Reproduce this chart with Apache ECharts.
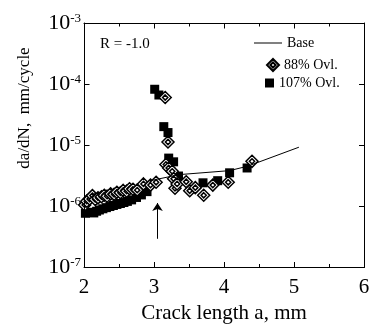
<!DOCTYPE html>
<html>
<head>
<meta charset="utf-8">
<script src="https://cdn.jsdelivr.net/npm/echarts@6/dist/echarts.min.js"></script>
<style>
  html, body { margin: 0; padding: 0; background: #fff; }
  #chart { width: 369px; height: 325px; }
</style>
</head>
<body>
<div id="chart"></div>
<script>
// crack length a (mm) vs da/dN (mm/cycle)
const baseLine = [[2.95, 2.6e-6], [3.05, 2.75e-6], [3.36, 3.27e-6], [4.08, 3.8e-6], [4.34, 4.5e-6], [5.07, 9.2e-6]];

const ovl107 = [
  [2.02, 7.6e-7], [2.06, 7.9e-7], [2.14, 7.7e-7], [2.18, 8.2e-7], [2.22, 8.6e-7], [2.27, 9.0e-7],
  [2.32, 9.4e-7], [2.37, 9.8e-7], [2.42, 1.02e-6], [2.47, 1.06e-6], [2.52, 1.1e-6], [2.57, 1.14e-6],
  [2.62, 1.19e-6], [2.68, 1.26e-6], [2.75, 1.38e-6], [2.82, 1.52e-6], [2.9, 1.72e-6],
  [3.01, 8.2e-5], [3.07, 6.6e-5], [3.14, 2.0e-5], [3.2, 1.6e-5], [3.21, 6.1e-6], [3.28, 5.3e-6],
  [3.35, 3.1e-6], [3.7, 2.4e-6], [3.91, 2.6e-6], [4.08, 3.5e-6], [4.33, 4.2e-6],
];

const ovl88 = [
  [2.01, 1.04e-6], [2.04, 1.2e-6], [2.08, 1.3e-6], [2.12, 1.48e-6], [2.16, 1.28e-6], [2.2, 1.36e-6],
  [2.25, 1.42e-6], [2.29, 1.5e-6], [2.33, 1.45e-6], [2.38, 1.58e-6], [2.43, 1.55e-6], [2.47, 1.68e-6],
  [2.52, 1.65e-6], [2.56, 1.8e-6], [2.61, 1.75e-6], [2.65, 1.92e-6], [2.7, 1.88e-6], [2.76, 1.82e-6],
  [2.85, 2.3e-6], [2.95, 2.2e-6], [3.03, 2.45e-6],
  [3.16, 6.0e-5], [3.2, 1.12e-5], [3.17, 4.8e-6], [3.21, 4.2e-6], [3.26, 3.7e-6], [3.28, 2.8e-6],
  [3.3, 1.95e-6], [3.33, 2.3e-6], [3.46, 2.5e-6], [3.51, 1.78e-6], [3.59, 2.0e-6], [3.71, 1.5e-6],
  [3.84, 2.2e-6], [4.06, 2.45e-6], [4.4, 5.4e-6],
];

// overload position arrow
const overloadArrow = [[3.05, 2.9e-7], [3.05, 1.12e-6]];

const xRange = [2, 6];
const yRange = [1e-7, 1e-3];
const xTicks = [2, 3, 4, 5, 6];
const xMinorTicks = [2.5, 3.5, 4.5, 5.5];
const yTicks = [1e-7, 1e-6, 1e-5, 1e-4, 1e-3];

const serif = 'Liberation Serif';
const diamondRing = 'path://M6,0L12,6L6,12L0,6Z M6,3.4L8.6,6L6,8.6L3.4,6Z';

const frame = () => ({
  axisLine: {show: true, onZero: false, lineStyle: {color: '#000', width: 1}},
  axisTick: {show: true, inside: true, length: 5, lineStyle: {color: '#000', width: 1}},
  splitLine: {show: false},
});

const chart = echarts.init(document.getElementById('chart'), null, {renderer: 'canvas'});

chart.setOption({
  animation: false,
  grid: {left: 84, right: 5, top: 23, bottom: 58, outerBoundsMode: 'none'},
  title: {
    text: 'R = -1.0', left: 100, top: 37, padding: 0,
    textStyle: {fontFamily: serif, fontSize: 15, fontWeight: 'normal', color: '#000'},
  },
  legend: [
    {data: [{name: 'Base', icon: 'rect'}], left: 249, top: 31, itemWidth: 28, itemHeight: 1, selectedMode: false,
      textStyle: {fontFamily: serif, fontSize: 14, color: '#000'}},
    {data: ['88% Ovl.'], left: 261, top: 53, itemWidth: 12, itemHeight: 12, selectedMode: false,
      textStyle: {fontFamily: serif, fontSize: 14, color: '#000'}},
    {data: ['107% Ovl.'], left: 260, top: 71, itemWidth: 9, itemHeight: 9, selectedMode: false,
      textStyle: {fontFamily: serif, fontSize: 14, color: '#000'}},
  ],
  xAxis: [{
    ...frame(),
    type: 'value', min: xRange[0], max: xRange[1], interval: 1,
    minorTick: {show: true, splitNumber: 2, length: 3, lineStyle: {color: '#000'}},
    axisLabel: {fontFamily: serif, fontSize: 21, color: '#000', margin: 10},
    name: 'Crack length a, mm', nameLocation: 'middle', nameGap: 30,
    nameTextStyle: {fontFamily: serif, fontSize: 21, color: '#000'},
  }, {
    ...frame(),
    type: 'value', position: 'top', min: xRange[0], max: xRange[1], interval: 1,
    minorTick: {show: true, splitNumber: 2, length: 3, lineStyle: {color: '#000'}},
    axisLabel: {show: false},
  }],
  yAxis: [{
    ...frame(),
    type: 'log', logBase: 10, min: yRange[0], max: yRange[1],
    axisLabel: {
      margin: 3,
      formatter: v => `{b|10}{s|${Math.round(Math.log10(v))}}`,
      rich: {
        b: {fontFamily: serif, fontSize: 22, lineHeight: 22, color: '#000'},
        s: {fontFamily: serif, fontSize: 13, color: '#000', verticalAlign: 'top'},
      },
    },
  }, {
    ...frame(),
    type: 'log', logBase: 10, position: 'right', min: yRange[0], max: yRange[1],
    axisLabel: {show: false},
  }],
  series: [
    {
      name: 'Base', type: 'line', data: baseLine, symbol: 'none',
      itemStyle: {color: '#000'},
      lineStyle: {color: '#000', width: 1},
      markLine: {
        silent: true, symbol: ['none', 'arrow'], symbolSize: 8,
        label: {show: false},
        itemStyle: {color: '#000'},
        lineStyle: {color: '#000', width: 1, type: 'solid'},
        data: [[{coord: overloadArrow[0]}, {coord: overloadArrow[1]}]],
      },
    },
    {
      name: '107% Ovl.', type: 'scatter', data: ovl107, symbol: 'rect', symbolSize: 9,
      itemStyle: {color: '#000', opacity: 1},
    },
    {
      name: '88% Ovl.', type: 'scatter', data: ovl88, symbol: diamondRing, symbolSize: 12,
      itemStyle: {color: '#fff', borderColor: '#000', borderWidth: 1.5, opacity: 1},
    },
  ],
});

// plot frame and inward ticks, placed through the chart's own scales
const toPx = p => chart.convertToPixel({xAxisIndex: 0, yAxisIndex: 0}, p);
const snap = v => Math.round(v) + 0.5;
const [frameLeft, frameBottom] = toPx([xRange[0], yRange[0]]).map(snap);
const [frameRight, frameTop] = toPx([xRange[1], yRange[1]]).map(snap);
const seg = (xa, ya, xb, yb) => ({
  type: 'line', silent: true, z: 10,
  shape: {x1: xa, y1: ya, x2: xb, y2: yb},
  style: {stroke: '#000', lineWidth: 1},
});
const frameMarks = [{
  type: 'rect', silent: true, z: 10,
  shape: {x: frameLeft, y: frameTop, width: frameRight - frameLeft, height: frameBottom - frameTop},
  style: {fill: 'none', stroke: '#000', lineWidth: 1},
}];
xTicks.forEach(v => {
  const x = snap(toPx([v, yRange[0]])[0]);
  frameMarks.push(seg(x, frameBottom, x, frameBottom - 5), seg(x, frameTop, x, frameTop + 5));
});
xMinorTicks.forEach(v => {
  const x = snap(toPx([v, yRange[0]])[0]);
  frameMarks.push(seg(x, frameBottom, x, frameBottom - 3), seg(x, frameTop, x, frameTop + 3));
});
yTicks.forEach(v => {
  const y = snap(toPx([xRange[0], v])[1]);
  frameMarks.push(seg(frameLeft, y, frameLeft + 5, y), seg(frameRight, y, frameRight - 5, y));
});

chart.setOption({
  graphic: [{
    type: 'text', x: 25, y: 108, rotation: Math.PI / 2,
    style: {text: 'da/dN,  mm/cycle', fontFamily: serif, fontSize: 17, fill: '#000', align: 'center', verticalAlign: 'middle'},
  }, ...frameMarks],
});
</script>
</body>
</html>
